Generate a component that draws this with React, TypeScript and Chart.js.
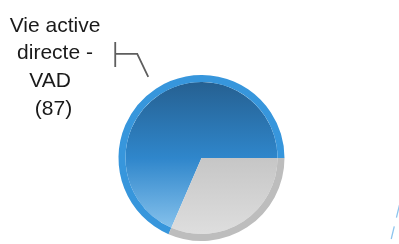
import React, { useEffect, useRef } from "react";
import { Chart, registerables } from "chart.js";

Chart.register(...registerables);

const categories = ["Vie active directe - VAD", "Autre"];
const values = [87, 40];
const labelLines = ["Vie active", "directe -", "VAD", "(87)"];

export default function App() {
  const ref = useRef<HTMLCanvasElement>(null);

  useEffect(() => {
    const canvas = ref.current;
    if (!canvas) return;
    const total = values.reduce((a, b) => a + b, 0);
    const rotation = 90 + (360 * values[1]) / total;

    const innerFill = (c: any) => {
      const chart = c.chart;
      const area = chart.chartArea;
      if (!area) return c.dataIndex === 0 ? "#2f85c8" : "#d0d0d0";
      const g = chart.ctx.createLinearGradient(0, area.top, 0, area.bottom);
      if (c.dataIndex === 0) {
        g.addColorStop(0, "#255d8c");
        g.addColorStop(0.5, "#2f86cb");
        g.addColorStop(1, "#95ccf2");
      } else {
        g.addColorStop(0, "#c2c2c2");
        g.addColorStop(0.5, "#c6c6c6");
        g.addColorStop(1, "#e0e0e0");
      }
      return g;
    };

    const labelPlugin = {
      id: "vadLabel",
      afterDraw(chart: any) {
        const meta = chart.getDatasetMeta(0);
        const arc = meta.data[0];
        if (!arc) return;
        const p = arc.getProps(["x", "y", "startAngle", "endAngle", "outerRadius"], true);
        const mid = (p.startAngle + p.endAngle) / 2;
        const rr = p.outerRadius + 14;
        const ex = p.x + Math.cos(mid) * rr;
        const ey = p.y + Math.sin(mid) * rr;
        const ctx = chart.ctx;
        ctx.save();
        ctx.strokeStyle = "#5e5e5e";
        ctx.lineWidth = 1.8;
        const elx = ex - 11;
        const ely = ey - 23;
        const tickX = elx - 22;
        ctx.beginPath();
        ctx.moveTo(ex, ey);
        ctx.lineTo(elx, ely);
        ctx.lineTo(tickX, ely);
        ctx.moveTo(tickX, ely - 12);
        ctx.lineTo(tickX, ely + 13);
        ctx.stroke();

        ctx.fillStyle = "#1a1a1a";
        ctx.font = '21px "Liberation Sans", Arial, sans-serif';
        ctx.textAlign = "center";
        ctx.textBaseline = "alphabetic";
        const xs = [55, 55, 50, 53.5];
        labelLines.forEach((t, i) => {
          ctx.fillText(t, xs[i], 31.5 + i * 27.8);
        });

        ctx.strokeStyle = "#8ec5ee";
        ctx.lineWidth = 1.3;
        ctx.setLineDash([13, 9]);
        ctx.beginPath();
        ctx.moveTo(399.5, 205);
        ctx.lineTo(390, 244);
        ctx.stroke();
        ctx.restore();
      },
    };

    const chart = new Chart(canvas, {
      type: "pie",
      data: {
        labels: categories,
        datasets: [
          {
            data: values,
            backgroundColor: ["#3796dc", "#bdbdbd"],
            borderWidth: 0,
            weight: 7,
          } as any,
          {
            data: values,
            backgroundColor: innerFill,
            borderWidth: 0,
            weight: 76,
          } as any,
        ],
      },
      options: {
        responsive: false,
        animation: false,
        rotation,
        layout: { padding: { left: 118.5, right: 114.5, top: 75, bottom: 3 } },
        plugins: {
          legend: { display: false },
          tooltip: { enabled: false },
        },
      } as any,
      plugins: [labelPlugin],
    });
    return () => chart.destroy();
  }, []);

  return (
    <div style={{ position: "fixed", left: 0, top: 0, width: 399, height: 244, background: "#fff" }}>
      <canvas ref={ref} width={399} height={244} />
    </div>
  );
}
